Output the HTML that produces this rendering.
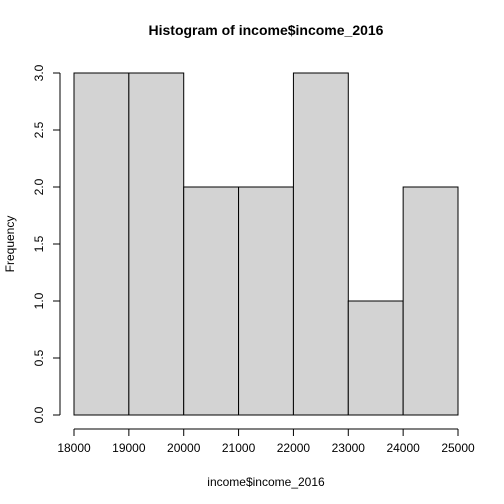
<!DOCTYPE html>
<html><head><style>
body{margin:0;background:#fff;}
svg{display:block;font-family:"Liberation Sans",sans-serif;}
</style></head><body>
<svg id="c" width="504" height="504">
<text x="266" y="35" font-size="14" font-weight="bold" text-anchor="middle">Histogram of income$income_2016</text>
<text x="266" y="486" font-size="12" text-anchor="middle">income$income_2016</text>
<text transform="translate(14,244) rotate(-90)" font-size="12" text-anchor="middle">Frequency</text>
<g id="bars"></g><g id="xaxis"></g><g id="yaxis"></g>
</svg>
<script>
const breaks=[18000,19000,20000,21000,22000,23000,24000,25000];
const counts=[3,3,2,2,3,1,2];
const xTicks=[18000,19000,20000,21000,22000,23000,24000,25000];
const yTicks=[0,0.5,1,1.5,2,2.5,3];
const yTickLabels=["0.0","0.5","1.0","1.5","2.0","2.5","3.0"];
const NS="http://www.w3.org/2000/svg";
const X=v=>74+(v-18000)*(458-74)/7000;
const Y=v=>415-v*(415-73)/3;
function mk(t,a,p){const e=document.createElementNS(NS,t);for(const k in a)e.setAttribute(k,a[k]);p.appendChild(e);return e;}
const bars=document.getElementById('bars');
counts.forEach((c,i)=>{
 const r=mk('rect',{x:X(breaks[i]),y:Y(c),width:X(breaks[i+1])-X(breaks[i]),height:Y(0)-Y(c),fill:'#d3d3d3',stroke:'#000','stroke-width':1},bars);
 
 
});
const xa=document.getElementById('xaxis');


mk('line',{x1:X(xTicks[0]),x2:X(xTicks[xTicks.length-1]),y1:429,y2:429,stroke:'#000'},xa);
xTicks.forEach(v=>{
 mk('line',{x1:X(v),x2:X(v),y1:429,y2:436,stroke:'#000'},xa);
 const t=mk('text',{x:X(v),y:452,'font-size':12,'text-anchor':'middle'},xa);t.textContent=v;
 
 
});
const ya=document.getElementById('yaxis');


mk('line',{x1:60,x2:60,y1:Y(yTicks[0]),y2:Y(yTicks[yTicks.length-1]),stroke:'#000'},ya);
yTicks.forEach((v,i)=>{
 mk('line',{x1:53,x2:60,y1:Y(v),y2:Y(v),stroke:'#000'},ya);
 const t=mk('text',{transform:`translate(43,${Y(v)}) rotate(-90)`,'font-size':12,'text-anchor':'middle'},ya);t.textContent=yTickLabels[i];
 
 
});
</script>
</body></html>
